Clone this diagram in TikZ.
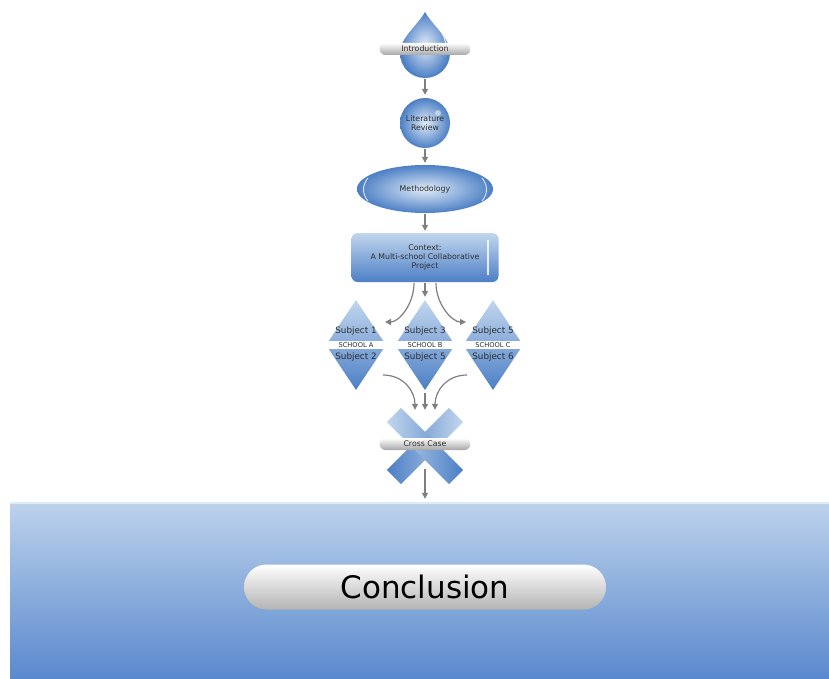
\documentclass[tikz,border=0pt]{standalone}
\usepackage{fontspec}
\setmainfont{DejaVu Sans}
\usepackage{tikz}
\usetikzlibrary{shapes.geometric,shapes.misc,arrows.meta}
\usepackage{xcolor}

\definecolor{paleblue}{HTML}{C2D6EE}
\definecolor{midblue}{HTML}{4C7FC5}
\definecolor{glowblue}{HTML}{E0EBF7}
\definecolor{bandtop}{HTML}{BDD2EC}
\definecolor{bandbot}{HTML}{5989CD}
\definecolor{arrowgray}{HTML}{7F7F7F}
\definecolor{textgray}{HTML}{2E2E2E}
\definecolor{bargray}{HTML}{A6A6A6}

\tikzset{
	flow/.style={draw=arrowgray, line width=1.2pt, -{Triangle[length=6pt,width=6pt]}, shorten <=1pt},
	small/.style={font=\fontsize{7.8}{9.4}\selectfont, text=textgray, align=center},
	labelbar/.style={rounded rectangle, minimum width=91pt, minimum height=12pt, inner sep=0pt, top color=white, bottom color=bargray, small},
	schoolbox/.style={diamond, minimum width=60pt, minimum height=90pt, inner sep=0pt, top color=paleblue, bottom color=midblue},
	crossbar/.style={rectangle, minimum width=88pt, minimum height=20pt, inner sep=0pt},
}

\begin{document}
\begin{tikzpicture}[x=1pt, y=-1pt]
		\useasboundingbox (0,0) rectangle (829,679);

		% droplet
		\shade[inner color=glowblue, outer color=midblue] (425,12) .. controls (433,26) and (450,38) .. (450,53)
			.. controls (450,67) and (439,78) .. (425,78) .. controls (411,78) and (400,67) .. (400,53)
			.. controls (400,38) and (417,26) .. (425,12);
		\draw[white, line width=1pt, opacity=0.8] (437,26) .. controls (443,33) and (446,40) .. (446,48);
		\node (introdrop) [minimum width=50pt, minimum height=66pt, inner sep=0pt] at (425,45) {};
		\node (intro) [labelbar] at (425,49) {Introduction};

		\node (litrev) [circle, minimum size=50pt, inner sep=0pt, inner color=glowblue, outer color=midblue, small] at (425,123) {Literature\\Review};
		\fill[white, opacity=0.5] (438,113) circle (3);

		\node (method) [ellipse, minimum width=136pt, minimum height=48pt, inner sep=0pt, inner color=glowblue, outer color=midblue, small] at (425,189) {Methodology};
		\draw[white, line width=0.9pt, opacity=0.8] (368,178) .. controls (362,185) and (362,194) .. (368,201);
		\draw[white, line width=0.9pt, opacity=0.8] (482,178) .. controls (488,185) and (488,194) .. (482,201);

		\node (context) [rectangle, rounded corners=6pt, minimum width=147pt, minimum height=49pt, top color=paleblue, bottom color=midblue, small] at (425,257.5) {Context:\\A Multi-school Collaborative\\Project};
		\draw[white, line width=1.4pt, opacity=0.8] (488,240) -- (488,275);

		% schools
		\node (schoolA) [schoolbox] at (356,345) {};
		\node (schoolB) [schoolbox] at (425,345) {};
		\node (schoolC) [schoolbox] at (493,345) {};
		\fill[white] (325,341) rectangle (387,349);
		\fill[white] (394,341) rectangle (456,349);
		\fill[white] (462,341) rectangle (524,349);
		\node[small, font=\fontsize{6.7}{8}\selectfont] at (356,345) {SCHOOL A};
		\node[small, font=\fontsize{6.7}{8}\selectfont] at (425,345) {SCHOOL B};
		\node[small, font=\fontsize{6.7}{8}\selectfont] at (493,345) {SCHOOL C};
		\node[small, font=\fontsize{8.8}{10}\selectfont] at (356,331) {Subject 1};
		\node[small, font=\fontsize{8.8}{10}\selectfont] at (356,357) {Subject 2};
		\node[small, font=\fontsize{8.8}{10}\selectfont] at (425,331) {Subject 3};
		\node[small, font=\fontsize{8.8}{10}\selectfont] at (425,357) {Subject 5};
		\node[small, font=\fontsize{8.8}{10}\selectfont] at (493,331) {Subject 5};
		\node[small, font=\fontsize{8.8}{10}\selectfont] at (493,357) {Subject 6};

		% cross case
		\node[crossbar, rotate=45, left color=midblue, right color=paleblue] at (425,446) {};
		\node[crossbar, rotate=-45, left color=paleblue, right color=midblue] at (425,446) {};
		\node (cross) [minimum width=76pt, minimum height=72pt, inner sep=0pt] at (425,446) {};
		\node (crosslabel) [labelbar] at (425,444) {Cross Case};

		% conclusion band
		\node (band) [rectangle, minimum width=819pt, minimum height=176pt, inner sep=0pt, top color=bandtop, bottom color=bandbot] at (419.5,591) {};
		\draw[white!55!bandtop, line width=1.5pt] (band.north west) -- (band.north east);
		\node (concl) [rounded rectangle, minimum width=362pt, minimum height=45pt, inner sep=0pt, top color=white, bottom color=bargray!85, font=\fontsize{31}{36}\selectfont] at (425,587) {Conclusion};

		\coordinate (inA) at (385,322);
		\coordinate (inC) at (466,322);
		\coordinate (outA) at (382,375);
		\coordinate (outC) at (468,375);
		\coordinate (crossfoot) at (425,468);

		\draw[flow, shorten >=3pt] (introdrop.south) -- (litrev.north);
		\draw[flow, shorten >=2pt] (litrev.south) -- (method.north);
		\draw[flow, shorten >=2pt] (method.south) -- (context.north);
		\draw[flow, shorten >=3pt] (context.south) -- (schoolB.north);
		\draw[flow] ([xshift=-11pt]context.south) .. controls +(0,22) and +(14,0) .. (inA);
		\draw[flow] ([xshift=11pt]context.south) .. controls +(0,22) and +(-14,0) .. (inC);
		\draw[flow, shorten <=3pt] (schoolB.south) -- (cross.north);
		\draw[flow] (outA) .. controls +(22,0) and +(0,-18) .. ([xshift=-10pt]cross.north);
		\draw[flow] (outC) .. controls +(-22,0) and +(0,-18) .. ([xshift=10pt]cross.north);
		\draw[flow, shorten >=4pt] (crossfoot) -- (crossfoot |- band.north);
	\end{tikzpicture}
\end{document}
